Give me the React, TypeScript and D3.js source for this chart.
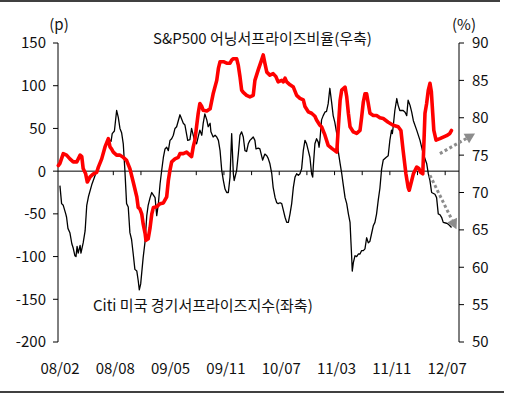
import * as d3 from "d3";

// x positions are in "period" units: each x-axis tick is 1 unit, labels every 2 ticks
const periodLabels = ["08/02", "08/08", "09/05", "09/11", "10/07", "11/03", "11/11", "12/07"];
const leftTicks = [-200, -150, -100, -50, 0, 50, 100, 150];
const rightTicks = [50, 55, 60, 65, 70, 75, 80, 85, 90];

// Citi US economic surprise index (left axis)
const citiPeriod = [
  0.07, 0.13, 0.19, 0.28, 0.31, 0.36, 0.43, 0.5, 0.55, 0.61, 0.65, 0.69, 0.73, 0.8, 0.83, 0.91, 0.98,
  1.04, 1.1, 1.22, 1.34, 1.46, 1.58, 1.7, 1.82, 1.92, 1.96, 2.04, 2.12, 2.18, 2.24, 2.3, 2.36, 2.42,
  2.48, 2.54, 2.6, 2.66, 2.72, 2.78, 2.85, 2.9, 2.94, 2.99, 3.08, 3.15, 3.21, 3.26, 3.33, 3.39, 3.45,
  3.51, 3.57, 3.63, 3.69, 3.75, 3.81, 3.87, 3.93, 3.99, 4.05, 4.11, 4.17, 4.23, 4.29, 4.35, 4.41,
  4.47, 4.53, 4.59, 4.69, 4.77, 4.83, 4.92, 5.01, 5.07, 5.13, 5.2, 5.25, 5.31, 5.38, 5.43, 5.5, 5.53,
  5.61, 5.68, 5.74, 5.8, 5.86, 5.92, 5.98, 6.04, 6.1, 6.16, 6.22, 6.28, 6.34, 6.37, 6.46, 6.52, 6.58,
  6.64, 6.7, 6.76, 6.82, 6.88, 6.94, 7.0, 7.06, 7.12, 7.16, 7.24, 7.3, 7.4, 7.48, 7.55, 7.6, 7.66,
  7.73, 7.78, 7.85, 7.91, 7.96, 8.03, 8.09, 8.15, 8.21, 8.27, 8.33, 8.39, 8.45, 8.51, 8.57, 8.63,
  8.69, 8.75, 8.81, 8.87, 8.93, 8.99, 9.05, 9.11, 9.17, 9.21, 9.23, 9.29, 9.35, 9.41, 9.44, 9.47,
  9.53, 9.59, 9.65, 9.71, 9.77, 9.83, 9.9, 9.95, 10.01, 10.08, 10.13, 10.2, 10.26, 10.31, 10.38,
  10.44, 10.5, 10.56, 10.59, 10.62, 10.64, 10.68, 10.74, 10.8, 10.86, 10.92, 10.98, 11.04, 11.1,
  11.16, 11.22, 11.28, 11.34, 11.4, 11.46, 11.52, 11.58, 11.64, 11.7, 11.76, 11.86, 11.94, 12.0,
  12.06, 12.09, 12.12, 12.18, 12.25, 12.3, 12.36, 12.48, 12.55, 12.61, 12.66, 12.73, 12.79, 12.85,
  12.97, 13.09, 13.21, 13.33, 13.39, 13.45, 13.51, 13.63, 13.69, 13.75, 13.81, 13.87, 13.93, 14.05,
  14.11, 14.17, 14.23,
];
const citiValue = [
  -17, -38, -40, -50, -54, -67, -72, -85, -90, -99, -100, -88, -96, -87, -96, -84, -70,
  -40, -30, -16, -5, 4, 15, 27, 38, 35, 44, 47, 71, 63, 50, 45, 32, 0,
  -38, -42, -72, -80, -97, -115, -117, -128, -139, -132, -101, -82, -52, -40, -31, -25, -28,
  -31, -52, -38, -15, 1, 16, 26, 28, 24, 36, 38, 42, 50, 52, 59, 66,
  61, 56, 54, 36, 37, 50, 38, 32, 40, 48, 42, 56, 67, 60, 52, 56, 46,
  40, 42, 40, 36, 24, 1, -11, -21, -25, -25, -7, 44, -3, -11, 1, 20, 42,
  46, 40, 24, 23, 32, 36, 38, 40, 36, 26, 27, 26, 13, 20, 18, 15, 9,
  -3, -19, -31, -37, -38, -37, -38, -46, -54, -60, -60, -50, -38, -19, -7, -3,
  -5, -3, 3, 24, 36, 32, 24, 16, -3, -7, 5, 32, 38, 34, 28, 36,
  60, 65, 69, 70, 79, 97, 79, 65, 57, 44, 24, 9, -3, -15, -31,
  -38, -50, -60, -81, -101, -117, -107, -99, -100, -97, -97, -93, -93, -91,
  -78, -84, -82, -73, -64, -60, -50, -34, -20, 2, 13, 16, 18, 36,
  48, 44, 52, 71, 85, 77, 71, 71, 69, 65, 83, 77, 69, 59,
  48, 36, 20, 9, -3, -11, -25, -27, -31, -50, -51, -54, -60, -61,
  -62, -64, -66,
];

// S&P500 earnings surprise ratio (right axis, %)
const spPeriod = [
  0.01, 0.07, 0.19, 0.31, 0.43, 0.55, 0.68, 0.8, 0.86, 0.91, 1.0, 1.06, 1.16, 1.28, 1.4, 1.46, 1.58,
  1.7, 1.82, 1.88, 1.94, 2.0, 2.12, 2.24, 2.36, 2.48, 2.6, 2.72, 2.85, 2.9, 2.96, 3.03, 3.08, 3.15,
  3.18, 3.26, 3.33, 3.39, 3.45, 3.57, 3.69, 3.81, 3.93, 3.99, 4.05, 4.11, 4.23, 4.35, 4.41, 4.53,
  4.65, 4.77, 4.83, 4.89, 4.95, 5.01, 5.07, 5.13, 5.2, 5.25, 5.38, 5.5, 5.61, 5.74, 5.8, 5.86, 5.98,
  6.1, 6.22, 6.28, 6.34, 6.46, 6.52, 6.58, 6.64, 6.7, 6.82, 6.94, 7.06, 7.12, 7.24, 7.36, 7.42, 7.48,
  7.55, 7.66, 7.78, 7.88, 7.96, 8.09, 8.15, 8.21, 8.27, 8.39, 8.51, 8.63, 8.75, 8.87, 8.93, 9.05,
  9.17, 9.29, 9.35, 9.47, 9.53, 9.65, 9.77, 9.9, 10.01, 10.08, 10.13, 10.2, 10.26, 10.38, 10.44,
  10.5, 10.56, 10.68, 10.8, 10.92, 10.98, 11.04, 11.1, 11.16, 11.22, 11.28, 11.4, 11.52, 11.64,
  11.76, 11.94, 12.12, 12.3, 12.4, 12.48, 12.58, 12.66, 12.7, 12.79, 12.85, 12.97, 13.05, 13.11,
  13.19, 13.23, 13.27, 13.33, 13.39, 13.45, 13.5, 13.55, 13.59, 13.67, 13.81, 13.93, 14.05, 14.17,
  14.23,
];
const spValue = [
  73.6, 73.9, 75.2, 75.0, 74.5, 74.1, 74.1, 75.0, 74.8, 73.2, 72.5, 71.4, 72.1, 72.5, 72.7, 73.4, 74.5,
  76.1, 77.2, 76.1, 75.8, 75.4, 75.0, 75.0, 74.7, 74.3, 73.2, 71.4, 69.4, 68.0, 67.8, 67.1, 65.8, 64.5,
  63.6, 63.8, 65.3, 67.1, 68.0, 68.1, 68.5, 68.6, 69.4, 71.6, 73.0, 74.1, 74.5, 74.7, 75.2, 75.2,
  75.4, 75.0, 74.8, 76.1, 77.0, 78.8, 80.6, 81.9, 81.5, 81.0, 80.9, 81.2, 83.2, 85.0, 86.6, 87.5, 87.5,
  87.3, 87.3, 87.7, 87.9, 87.9, 87.0, 85.5, 83.7, 83.4, 83.0, 82.8, 83.0, 85.0, 86.4, 87.7, 88.4, 87.3,
  86.1, 85.7, 85.9, 85.5, 84.8, 85.0, 84.8, 85.3, 84.8, 84.4, 84.1, 83.0, 82.6, 82.4, 81.5, 80.8,
  80.6, 80.2, 79.7, 79.0, 78.8, 77.7, 76.3, 75.9, 75.6, 75.4, 78.3, 82.3, 83.7, 84.1, 82.8,
  80.6, 78.8, 78.1, 77.9, 78.3, 80.1, 82.1, 83.2, 83.2, 81.9, 80.6, 80.3, 80.3, 80.0,
  79.9, 79.4, 79.0, 78.8, 78.3, 75.6, 72.5, 70.7, 70.3, 71.6, 72.5, 73.4, 73.2, 72.7,
  72.5, 76.5, 80.6, 81.9, 83.7, 84.6, 83.5, 80.6, 78.3, 77.0, 77.2, 77.4, 77.6, 77.9,
  78.3,
];

// dotted trend arrows, [period, right-axis %]
const arrowUp = { from: [13.81, 75.2], to: [15.08, 77.9] };
const arrowDown = { from: [13.45, 72.3], to: [14.41, 65.1] };

const W = 508;
const H = 395;
const FONT = "'Noto Sans CJK KR', 'Noto Sans', sans-serif";

export default function App() {
  const x = d3.scaleLinear().domain([0, 14.5]).range([58, 459]);
  const yL = d3.scaleLinear().domain([-200, 150]).range([342, 43]);
  const yR = d3.scaleLinear().domain([50, 90]).range([342, 43]);

  const citi = citiPeriod.map((p, i) => [p, citiValue[i]] as [number, number]);
  const sp = spPeriod.map((p, i) => [p, spValue[i]] as [number, number]);

  const citiLine = d3
    .line<[number, number]>()
    .x((d) => x(d[0]))
    .y((d) => yL(d[1]));
  const spLine = d3
    .line<[number, number]>()
    .x((d) => x(d[0]))
    .y((d) => yR(d[1]));

  const x0 = x(0);
  const x1 = x(14.5);
  const zeroY = yL(0);

  const arrow = (a: { from: number[]; to: number[] }, key: string) => {
    const fx = x(a.from[0]);
    const fy = yR(a.from[1]);
    const tx = x(a.to[0]);
    const ty = yR(a.to[1]);
    const ang = Math.atan2(ty - fy, tx - fx);
    const len = Math.hypot(tx - fx, ty - fy);
    const head = 10;
    const half = 5.5;
    const bx = tx - head * Math.cos(ang);
    const by = ty - head * Math.sin(ang);
    const nx = -Math.sin(ang);
    const ny = Math.cos(ang);
    return (
      <g key={key}>
        <line
          x1={fx}
          y1={fy}
          x2={fx + (len - head) * Math.cos(ang)}
          y2={fy + (len - head) * Math.sin(ang)}
          stroke="#8c8c8c"
          strokeWidth={3}
          strokeDasharray="3 2.5"
        />
        <polygon
          points={`${tx},${ty} ${bx + nx * half},${by + ny * half} ${bx - nx * half},${by - ny * half}`}
          fill="#8c8c8c"
        />
      </g>
    );
  };

  return (
    <svg
      width={W}
      height={H}
      style={{ position: "absolute", left: 0, top: 0, background: "#fff" }}
      fontFamily={FONT}
    >
      {/* frame rules */}
      <line x1={0} x2={500} y1={1} y2={1} stroke="#000" strokeWidth={1.5} />
      <line x1={0} x2={504} y1={392} y2={392} stroke="#000" strokeWidth={1.5} />

      {/* left axis */}
      <line x1={x0} x2={x0} y1={yL(-200)} y2={yL(150)} stroke="#000" />
      {leftTicks.map((t) => (
        <g key={"l" + t}>
          <line x1={x0 - 5} x2={x0} y1={yL(t)} y2={yL(t)} stroke="#000" />
          <text x={46} y={yL(t)} dy="0.36em" textAnchor="end" fontSize={15} fill="#111">
            {t}
          </text>
        </g>
      ))}
      <text x={59} y={30} textAnchor="middle" fontSize={15} fill="#111">
        (p)
      </text>

      {/* right axis */}
      <line x1={x1} x2={x1} y1={yR(50)} y2={yR(90)} stroke="#000" />
      {rightTicks.map((t) => (
        <g key={"r" + t}>
          <line x1={x1} x2={x1 + 5} y1={yR(t)} y2={yR(t)} stroke="#000" />
          <text x={472} y={yR(t)} dy="0.36em" textAnchor="start" fontSize={15} fill="#111">
            {t}
          </text>
        </g>
      ))}
      <text x={464} y={30} textAnchor="middle" fontSize={15} fill="#111">
        (%)
      </text>

      {/* zero line with period ticks */}
      <line x1={x0} x2={x1} y1={zeroY} y2={zeroY} stroke="#000" />
      {d3.range(1, 15).map((p) => (
        <line key={"t" + p} x1={x(p)} x2={x(p)} y1={zeroY} y2={zeroY + 4} stroke="#000" />
      ))}
      {periodLabels.map((lab, i) => (
        <text key={lab} x={x(i * 2) + 2} y={374} textAnchor="middle" fontSize={15} fill="#111">
          {lab}
        </text>
      ))}

      {/* series */}
      <path d={citiLine(citi) || ""} fill="none" stroke="#000" strokeWidth={1.3} strokeLinejoin="round" />
      <path
        d={spLine(sp) || ""}
        fill="none"
        stroke="#ff0000"
        strokeWidth={3.6}
        strokeLinejoin="round"
        strokeLinecap="round"
      />

      {arrow(arrowUp, "up")}
      {arrow(arrowDown, "down")}

      {/* series labels */}
      <text x={153} y={44} fontSize={15} fill="#111">
        S&amp;P500 어닝서프라이즈비율(우축)
      </text>
      <text x={93} y={311} fontSize={15} fill="#111">
        Citi 미국 경기서프라이즈지수(좌축)
      </text>
    </svg>
  );
}
